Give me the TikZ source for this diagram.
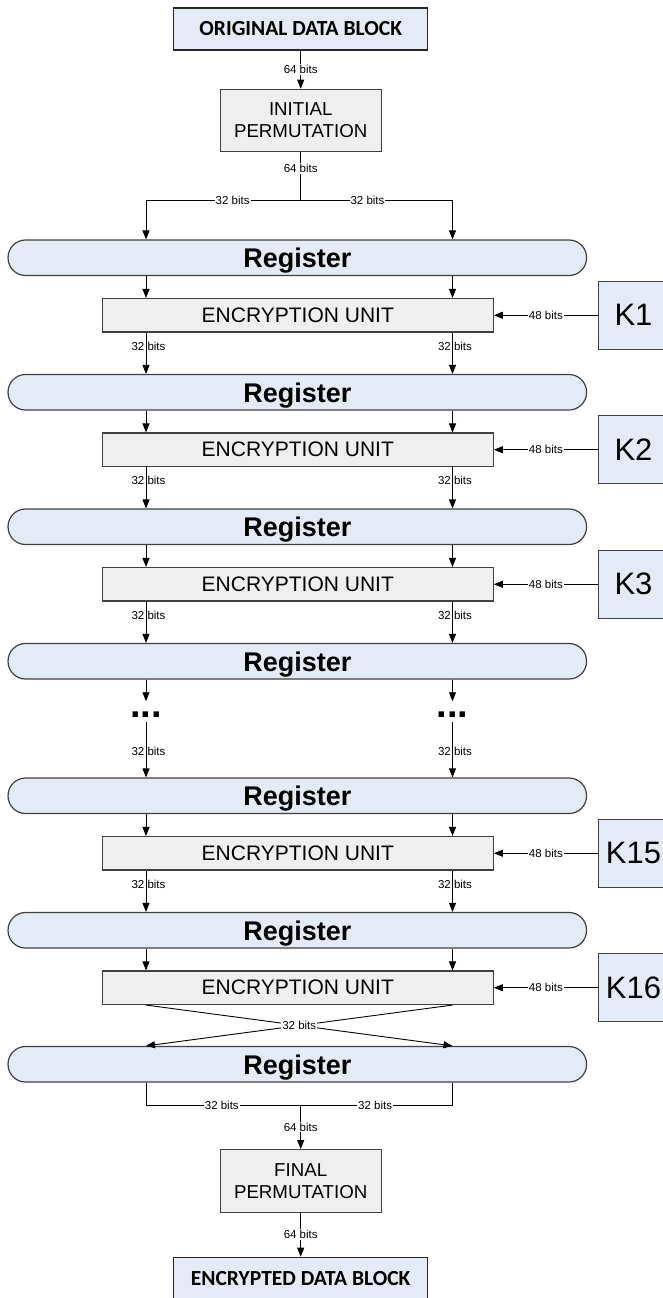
\documentclass[tikz,border=0pt]{standalone}
\usepackage{fontspec}
\setmainfont{Liberation Sans}
\newfontfamily\blockfont{Carlito}
\usetikzlibrary{arrows.meta,calc}
\definecolor{regblue}{HTML}{E4EBF6}
\definecolor{unitgray}{HTML}{EFEFEF}
\definecolor{edge}{HTML}{404040}
\begin{document}
\begin{tikzpicture}[x=1pt,y=-1pt,
  datablock/.style={draw=black!85, line width=1.2pt, fill=regblue,
    minimum width=254pt, minimum height=42pt, inner sep=0pt,
    font=\blockfont\bfseries\fontsize{21.5}{24}\selectfont},
  perm/.style={draw=edge, line width=1.1pt, fill=unitgray,
    minimum width=161pt, minimum height=62.5pt, inner sep=0pt, align=center,
    font=\fontsize{18.7}{22}\selectfont},
  register/.style={draw=edge, line width=1.2pt, fill=regblue,
    rounded corners=17.5pt, minimum width=578.5pt, minimum height=35.5pt,
    inner sep=0pt, text depth=0pt, font=\bfseries\fontsize{27}{30}\selectfont},
  unit/.style={draw=edge, line width=1.1pt, fill=unitgray,
    minimum width=391pt, minimum height=33.5pt, inner sep=0pt,
    font=\fontsize{21}{24}\selectfont},
  keybox/.style={draw=edge, line width=1.1pt, fill=regblue,
    minimum width=70pt, minimum height=68pt, inner sep=0pt,
    font=\fontsize{31}{34}\selectfont},
  bits/.style={font=\fontsize{11.5}{12}\selectfont, inner sep=1pt},
  bitsw/.style={bits, fill=white},
  halflabel/.style={bits, xshift=2.5pt},
  ellipsis/.style={inner sep=0pt, font=\bfseries\fontsize{38}{38}\selectfont},
  wire/.style={draw=black, line width=0.9pt},
  arr/.style={wire, -{Triangle[length=9pt,width=7pt]}}]
\useasboundingbox (0,0) rectangle (663,1298);

% column positions of the two 32-bit halves
\coordinate (L) at (146,0);
\coordinate (R) at (452.5,0);

% input block and initial permutation
\node[datablock] (odb) at (300.7,29) {ORIGINAL DATA BLOCK};
\node[perm] (ip) at (300.7,120.5) {INITIAL\\PERMUTATION};
\coordinate (split) at (300.7,200);
\coordinate (splitL) at (146,200);
\coordinate (splitR) at (452.5,200);

% registers
\node[register] (reg1) at (297.3,257.75) {Register};
\node[register] (reg2) at (297.3,392.25) {Register};
\node[register] (reg3) at (297.3,526.75) {Register};
\node[register] (reg4) at (297.3,661.25) {Register};
\node[register] (reg5) at (297.3,795.75) {Register};
\node[register] (reg6) at (297.3,930.25) {Register};
\node[register] (reg7) at (297.3,1064.25) {Register};

% encryption rounds and their subkeys
\node[unit] (enc1) at (297.8,315.25) {ENCRYPTION UNIT};
\node[unit] (enc2) at (297.8,449.75) {ENCRYPTION UNIT};
\node[unit] (enc3) at (297.8,584.25) {ENCRYPTION UNIT};
\node[unit] (enc4) at (297.8,853.25) {ENCRYPTION UNIT};
\node[unit] (enc5) at (297.8,987.75) {ENCRYPTION UNIT};
\node[keybox] (k1) at (633.5,315.25) {K1};
\node[keybox] (k2) at (633.5,449.75) {K2};
\node[keybox] (k3) at (633.5,584.25) {K3};
\node[keybox] (k15) at (633.5,853.25) {K15};
\node[keybox] (k16) at (633.5,987.75) {K16};

% elided rounds
\node[ellipsis] (dl) at (146,714.3) {...};
\node[ellipsis] (dr) at (452.5,714.3) {...};

% final permutation and output block
\coordinate (merge) at (300.7,1105);
\coordinate (mergeL) at (146,1105);
\coordinate (mergeR) at (452.5,1105);
\node[perm] (fp) at (300.7,1180.8) {FINAL\\PERMUTATION};
\node[datablock] (edb) at (300.7,1278.3) {ENCRYPTED DATA BLOCK};

% input path
\draw[arr] (odb) -- node[bitsw]{64 bits} (ip);
\draw[wire] (ip) -- node[bitsw,pos=0.34]{64 bits} (split);
\draw[arr] (split) -- node[bitsw,pos=0.44]{32 bits} (splitL) -- (reg1.north -| L);
\draw[arr] (split) -- node[bitsw,pos=0.44]{32 bits} (splitR) -- (reg1.north -| R);

% register -> unit
\foreach \r/\e in {reg1/enc1,reg2/enc2,reg3/enc3,reg5/enc4,reg6/enc5}{
  \draw[arr] (\r.south -| L) -- (\e.north -| L);
  \draw[arr] (\r.south -| R) -- (\e.north -| R);
}
% unit -> next register
\foreach \e/\r in {enc1/reg2,enc2/reg3,enc3/reg4,enc4/reg6}{
  \draw[arr] (\e.south -| L) -- node[halflabel,pos=0.33]{32 bits} (\r.north -| L);
  \draw[arr] (\e.south -| R) -- node[halflabel,pos=0.33]{32 bits} (\r.north -| R);
}
% subkeys
\foreach \k/\e in {k1/enc1,k2/enc2,k3/enc3,k15/enc4,k16/enc5}{
  \draw[arr] (\k) -- node[bitsw]{48 bits} (\e);
}

% elided rounds
\draw[arr, shorten >=10pt] (reg4.south -| L) -- (dl);
\draw[arr, shorten >=10pt] (reg4.south -| R) -- (dr);
\draw[arr, shorten <=5pt] (dl) -- node[halflabel,pos=0.56]{32 bits} (reg5.north -| L);
\draw[arr, shorten <=5pt] (dr) -- node[halflabel,pos=0.56]{32 bits} (reg5.north -| R);

% last round: halves swapped
\draw[arr] (enc5.south -| L) -- (reg7.north -| R);
\draw[arr] (enc5.south -| R) -- (reg7.north -| L);
\path ($(enc5.south -| L)!0.5!(enc5.south -| R)$) -- node[bitsw]{32 bits}
      ($(reg7.north -| L)!0.5!(reg7.north -| R)$);

% output path
\draw[wire] (reg7.south -| L) -- (mergeL) -- node[bitsw,pos=0.49]{32 bits} (merge);
\draw[wire] (reg7.south -| R) -- (mergeR) -- node[bitsw,pos=0.51]{32 bits} (merge);
\draw[arr] (merge) -- node[bitsw]{64 bits} (fp);
\draw[arr] (fp) -- node[bitsw]{64 bits} (edb);
\end{tikzpicture}
\end{document}
